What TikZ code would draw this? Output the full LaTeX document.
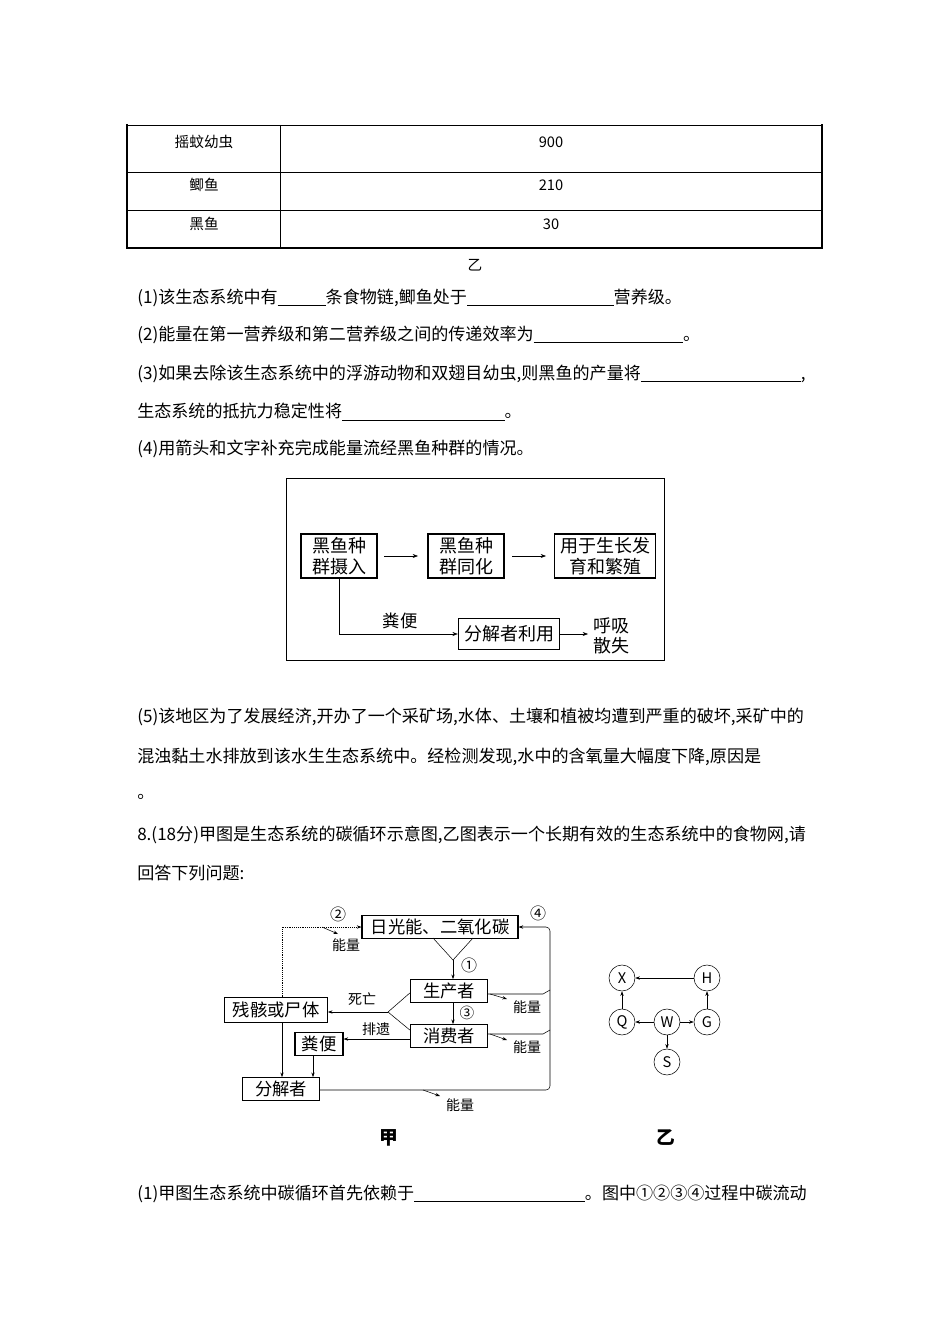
\documentclass[tikz,border=0pt]{standalone}
\usepackage{fontspec}
\setmainfont{Noto Sans CJK SC}
\usetikzlibrary{arrows.meta}
\newcommand{\blank}[1]{\underline{\hspace{#1pt}}}
\begin{document}
\begin{tikzpicture}[x=0.75pt,y=-0.75pt,
  body/.style={anchor=west,inner sep=0,font=\fontsize{12.8}{13}\selectfont},
  cell/.style={inner sep=0,font=\fontsize{11}{12}\selectfont},
  ebox/.style={draw,thick,inner sep=1pt,align=center,minimum height=33pt,font=\fontsize{13.5}{15.5}\selectfont},
  cbox/.style={draw,thick,inner sep=1pt,minimum height=17pt,font=\fontsize{13}{14}\selectfont},
  lab/.style={inner sep=0,font=\fontsize{10.5}{12}\selectfont},
  fw/.style={draw,circle,minimum size=19.5pt,inner sep=0,font=\fontsize{11}{12}\selectfont},
  arr/.style={-{Stealth[length=4pt,width=3pt]}},
  arrt/.style={-{Stealth[length=3.5pt,width=2.5pt]}}]
\useasboundingbox (0,0) rectangle (950,1344);
% table
\draw (127,125) -- (822,125);
\draw[line width=1.6pt] (127,124) -- (127,248) -- (822,248) -- (822,124);
\draw (280,125) -- (280,248);
\draw (127,172) -- (822,172);
\draw (127,210) -- (822,210);
\node[cell] (t1) at (204,142) {摇蚊幼虫};
\node[cell] (t2) at (551,142) {900};
\node[cell] (t3) at (204,185) {鲫鱼};
\node[cell] (t4) at (551,185) {210};
\node[cell] (t5) at (204,224) {黑鱼};
\node[cell] (t6) at (551,224) {30};
\node[cell] (yi0) at (475,265) {乙};
% questions
\node[body] (q1) at (137,298) {(1)该生态系统中有\blank{36}条食物链,鲫鱼处于\blank{110}营养级。};
\node[body] (q2) at (137,335) {(2)能量在第一营养级和第二营养级之间的传递效率为\blank{112}。};
\node[body] (q3) at (137,374) {(3)如果去除该生态系统中的浮游动物和双翅目幼虫,则黑鱼的产量将\blank{120},};
\node[body] (q3b) at (137,412) {生态系统的抵抗力稳定性将\blank{122}。};
\node[body] (q4) at (137,449) {(4)用箭头和文字补充完成能量流经黑鱼种群的情况。};
% energy box
\draw (286,478) rectangle (664,660);
\node[ebox,minimum width=57pt] (e1) at (339,556) {黑鱼种\\群摄入};
\node[ebox,minimum width=57pt] (e2) at (466,556) {黑鱼种\\群同化};
\node[ebox,minimum width=76pt] (e3) at (605,556) {用于生长发\\育和繁殖};
\node[ebox,minimum width=76pt,minimum height=23pt] (e4) at (509,634) {分解者利用};
\node[ebox,draw=none,inner sep=0,minimum height=0pt] (e5) at (611,636) {呼吸\\散失};
\node[lab,font=\fontsize{13}{14}\selectfont] (fb) at (400,621) {粪便};
\draw[arr] (384,556) -- (418,556);
\draw[arr] (512,556) -- (546,556);
\draw[arr] (e1.south) |- (e4.west);
\draw[arr] (e4.east) -- (588,634);
% paragraph 5
\node[body] (p1) at (137,717) {(5)该地区为了发展经济,开办了一个采矿场,水体、土壤和植被均遭到严重的破坏,采矿中的};
\node[body] (p2) at (137,757) {混浊黏土水排放到该水生生态系统中。经检测发现,水中的含氧量大幅度下降,原因是};
\node[body] (p3) at (137,797) {。};
\node[body] (p4) at (137,835) {8.(18分)甲图是生态系统的碳循环示意图,乙图表示一个长期有效的生态系统中的食物网,请};
\node[body] (p5) at (137,873) {回答下列问题:};
% carbon cycle
\node[cbox,minimum width=117pt] (sun) at (440,927) {日光能、二氧化碳};
\node[cbox,minimum width=58pt] (prod) at (449,991) {生产者};
\node[cbox,minimum width=58pt] (cons) at (449,1036) {消费者};
\node[cbox,minimum width=77pt,minimum height=19pt] (dead) at (276,1010) {残骸或尸体};
\node[cbox,minimum width=36pt] (fec) at (319,1044) {粪便};
\node[cbox,minimum width=58pt] (dec) at (281,1089) {分解者};
\node[lab,font=\fontsize{12}{13}\selectfont] (c2) at (338,914) {②};
\node[lab,font=\fontsize{12}{13}\selectfont] (c4) at (538,913) {④};
\node[lab,font=\fontsize{12}{13}\selectfont] (c1) at (469,965) {①};
\node[lab,font=\fontsize{11}{13}\selectfont] (c3) at (467,1013) {③};
\node[lab] (en0) at (346,945) {能量};
\node[lab] (en1) at (527,1007) {能量};
\node[lab] (en2) at (527,1047) {能量};
\node[lab] (en3) at (460,1105) {能量};
\node[lab] (die) at (362,999) {死亡};
\node[lab] (exc) at (376,1029) {排遗};
\coordinate (v) at (453,960);
\draw (433,938) -- (v) -- (473,938);
\draw[arrt] (v) -- (prod.north -| v);
\draw[arrt] (prod.south -| v) -- (cons.north -| v);
\coordinate (j) at (388,1012);
\draw (prod.west) ++(0,2) -- (j);
\draw (cons.west) ++(0,-6) -- (j);
\draw[arrt] (j) -- (dead.east |- j);
\draw[arrt] (cons.west |- 0,1039) -- (fec.east |- 0,1039);
\draw[arrt] (dead.south -| 282,0) -- (dec.north -| 282,0);
\draw[arrt] (fec.south -| 313,0) -- (dec.north -| 313,0);
\draw[densely dotted,arrt] (282,997) -- (282,927) -- (sun.west);
\draw[arrt] (322,927) -- (338,934);
\draw[arrt,rounded corners=3pt] (dec.east |- 0,1090) -- (550,1090) -- (550,927) -- (sun.east);
\draw (prod.east |- 0,994) -- (543,994) -- (550,990);
\draw (cons.east |- 0,1034) -- (543,1034) -- (550,1030);
\draw[arrt] (490,994) -- (507,999);
\draw[arrt] (490,1034) -- (507,1040);
\draw[arrt] (423,1090) -- (440,1096);
\node[font=\fontsize{14}{16}\selectfont\bfseries] (jia) at (389,1138) {甲};
\node[font=\fontsize{14}{16}\selectfont\bfseries] (yi) at (666,1138) {乙};
% food web
\node[fw] (X) at (622,978) {X};
\node[fw] (H) at (707,978) {H};
\node[fw] (Q) at (622,1022) {Q};
\node[fw] (W) at (667,1022) {W};
\node[fw] (G) at (707,1022) {G};
\node[fw] (S) at (667,1062) {S};
\draw[arrt] (H) -- (X);
\draw[arrt] (Q) -- (X);
\draw[arrt] (W) -- (Q);
\draw[arrt] (W) -- (G);
\draw[arrt] (W) -- (S);
\draw[arrt] (G) -- (H);
\node[body] (last) at (137,1194) {(1)甲图生态系统中碳循环首先依赖于\blank{128}。图中①②③④过程中碳流动};
\end{tikzpicture}
\end{document}
